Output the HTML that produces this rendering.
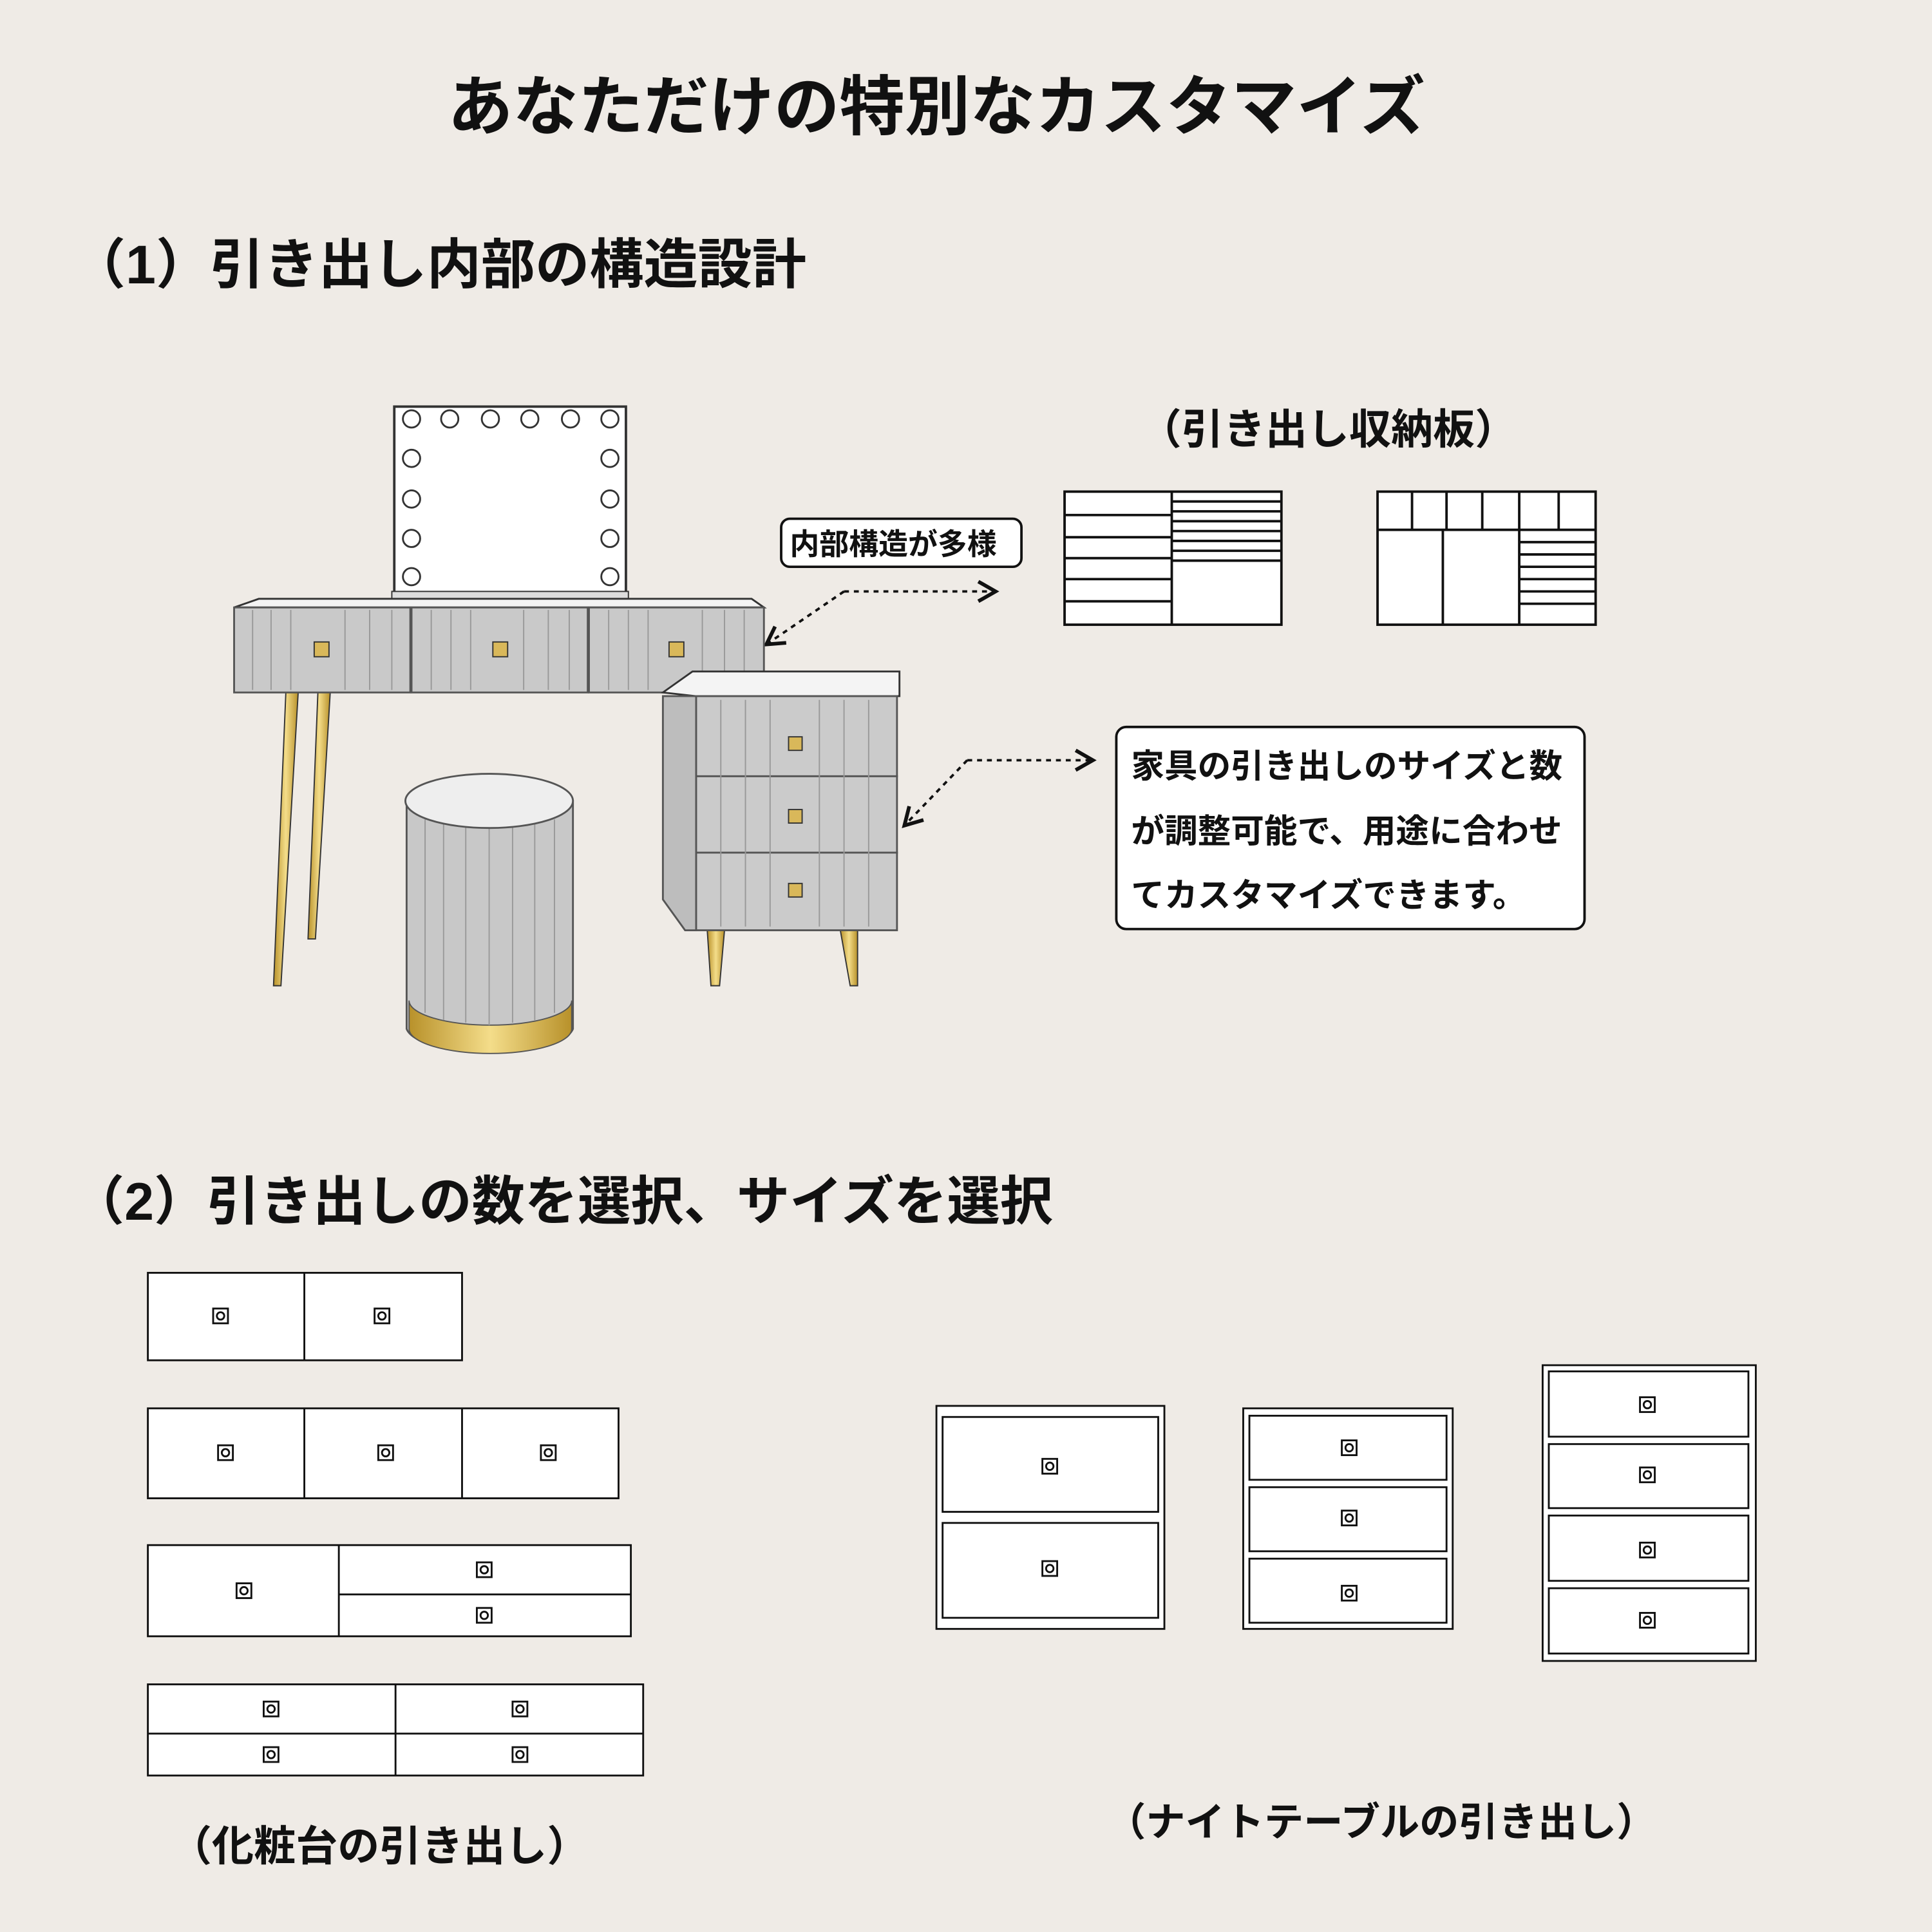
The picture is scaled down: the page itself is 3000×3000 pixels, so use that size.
<!DOCTYPE html>
<html><head><meta charset="utf-8"><style>
html,body{margin:0;padding:0;background:#efebe6;}
svg{display:block}
text{font-family:"Liberation Sans","Noto Sans CJK JP",sans-serif;fill:#111;font-weight:bold}
</style></head><body>
<svg width="3000" height="3000" viewBox="0 0 1568 1568" xmlns="http://www.w3.org/2000/svg">
<defs>
<g id="h"><rect x="-6" y="-6" width="12" height="12" fill="#fff" stroke="#111" stroke-width="1.5"/><circle r="3" fill="none" stroke="#111" stroke-width="1.5"/></g>
<marker id="ar" markerWidth="10" markerHeight="10" refX="8" refY="5" orient="auto"><path d="M1,1 L8,5 L1,9" fill="none" stroke="#111" stroke-width="1.5"/></marker>
<linearGradient id="gold" x1="0" x2="1"><stop offset="0" stop-color="#b8912a"/><stop offset=".5" stop-color="#f4dd8a"/><stop offset="1" stop-color="#b8912a"/></linearGradient>
</defs>
<rect width="1568" height="1568" fill="#efebe6"/>
<text x="760" y="105" font-size="53" text-anchor="middle">あなただけの特別なカスタマイズ</text>
<text x="58" y="230" font-size="44">（1）引き出し内部の構造設計</text>
<text x="58" y="990" font-size="43">（2）引き出しの数を選択、サイズを選択</text>
<text x="925" y="360" font-size="34">（引き出し収納板）</text>

<!-- organizers -->
<g fill="#fff" stroke="#111" stroke-width="2">
<rect x="864" y="399" width="176" height="108"/>
<line x1="951" y1="399" x2="951" y2="507"/>
<path d="M864 418H951M864 436H951M864 453H951M864 470H951M864 488H951" />
<path d="M951 407H1040M951 415H1040M951 423H1040M951 431H1040M951 439H1040M951 447H1040M951 455H1040"/>
<rect x="1118" y="399" width="177" height="108"/>
<path d="M1118 430H1295M1146 399V430M1174 399V430M1203 399V430M1233 399V430M1265 399V430M1171 430V507M1233 430V507"/>
<path d="M1233 440H1295M1233 450H1295M1233 460H1295M1233 470H1295M1233 480H1295M1233 490H1295"/>
</g>

<!-- callouts -->
<rect x="634" y="421" width="195" height="39" rx="7" fill="#fff" stroke="#111" stroke-width="2"/>
<text x="641" y="450" font-size="24">内部構造が多様</text>
<path d="M685 480 L808 480" fill="none" stroke="#111" stroke-width="2" stroke-dasharray="4,4" marker-end="url(#ar)"/>
<path d="M685 480 L622 523" fill="none" stroke="#111" stroke-width="2" marker-end="url(#ar)" stroke-dasharray="4,4"/>
<rect x="906" y="590" width="380" height="164" rx="8" fill="#fff" stroke="#111" stroke-width="2"/>
<text x="918" y="631" font-size="27">家具の引き出しのサイズと数</text>
<text x="918" y="684" font-size="27">が調整可能で、用途に合わせ</text>
<text x="918" y="736" font-size="27">てカスタマイズできます。</text>
<path d="M785 617 L887 617" fill="none" stroke="#111" stroke-width="2" stroke-dasharray="4,4" marker-end="url(#ar)"/>
<path d="M785 617 L734 670" fill="none" stroke="#111" stroke-width="2" stroke-dasharray="4,4" marker-end="url(#ar)"/>

<!-- vanity illustration -->
<rect x="320" y="330" width="188" height="152" fill="#fff" stroke="#333" stroke-width="2"/>
<rect x="318" y="480" width="192" height="8" fill="#ddd" stroke="#333"/>
<g fill="#fff" stroke="#333" stroke-width="1.5">
<circle cx="334" cy="340" r="7"/><circle cx="365" cy="340" r="7"/><circle cx="398" cy="340" r="7"/><circle cx="430" cy="340" r="7"/><circle cx="463" cy="340" r="7"/><circle cx="495" cy="340" r="7"/>
<circle cx="334" cy="372" r="7"/><circle cx="334" cy="405" r="7"/><circle cx="334" cy="437" r="7"/><circle cx="334" cy="468" r="7"/>
<circle cx="495" cy="372" r="7"/><circle cx="495" cy="405" r="7"/><circle cx="495" cy="437" r="7"/><circle cx="495" cy="468" r="7"/>
</g>
<path d="M232 562 L242 562 L228 800 L222 800Z" fill="url(#gold)" stroke="#333"/>
<path d="M258 562 L268 562 L256 762 L250 762Z" fill="url(#gold)" stroke="#333"/>
<path d="M574 755 L588 755 L584 800 L577 800Z" fill="url(#gold)" stroke="#333"/>
<path d="M682 755 L696 755 L696 800 L690 800Z" fill="url(#gold)" stroke="#333"/>
<path d="M190 493 L210 486 L610 486 L620 493Z" fill="#f4f4f4" stroke="#333" stroke-width="1.5"/>
<g fill="#c9c9c9" stroke="#555" stroke-width="1.5">
<rect x="190" y="493" width="143" height="69"/><rect x="334" y="493" width="143" height="69"/><rect x="478" y="493" width="142" height="69"/>
</g>
<g stroke="#999" stroke-width="1">
<path d="M205 495V560M220 495V560M236 495V560M280 495V560M300 495V560M318 495V560M350 495V560M366 495V560M382 495V560M425 495V560M445 495V560M462 495V560M494 495V560M510 495V560M526 495V560M570 495V560M588 495V560M604 495V560"/>
</g>
<rect x="255" y="521" width="12" height="12" fill="#d9b85a" stroke="#333"/>
<rect x="400" y="521" width="12" height="12" fill="#d9b85a" stroke="#333"/>
<rect x="543" y="521" width="12" height="12" fill="#d9b85a" stroke="#333"/>
<path d="M538 562 L562 545 L730 545 L730 565 L565 565Z" fill="#f4f4f4" stroke="#333" stroke-width="1.5"/>
<path d="M538 565 L565 565 L565 755 L556 755 L538 730Z" fill="#bdbdbd" stroke="#555" stroke-width="1.5"/>
<g fill="#cbcbcb" stroke="#555" stroke-width="1.5">
<rect x="565" y="565" width="163" height="65"/><rect x="565" y="630" width="163" height="62"/><rect x="565" y="692" width="163" height="63"/>
</g>
<g stroke="#999" stroke-width="1"><path d="M585 568V752M605 568V752M625 568V752M665 568V752M685 568V752M705 568V752"/></g>
<rect x="640" y="598" width="11" height="11" fill="#d9b85a" stroke="#333"/>
<rect x="640" y="657" width="11" height="11" fill="#d9b85a" stroke="#333"/>
<rect x="640" y="717" width="11" height="11" fill="#d9b85a" stroke="#333"/>
<path d="M330 650 L330 835 A68 22 0 0 0 465 835 L465 650Z" fill="#c8c8c8" stroke="#555" stroke-width="1.5"/>
<path d="M332 812 L332 835 A66 20 0 0 0 464 835 L464 812 A66 20 0 0 1 332 812Z" fill="url(#gold)" stroke="#555"/>
<g stroke="#999" stroke-width="1"><path d="M345 665V822M360 668V828M378 670V830M397 672V832M416 670V830M434 668V828M450 665V822"/></g>
<ellipse cx="397" cy="650" rx="68" ry="22" fill="#eee" stroke="#555" stroke-width="1.5"/>

<g fill="#fff" stroke="#111" stroke-width="1.5">
<rect x="120" y="1033" width="255" height="71"/><line x1="247" y1="1033" x2="247" y2="1104"/>
<rect x="120" y="1143" width="382" height="73"/><line x1="247" y1="1143" x2="247" y2="1216"/><line x1="375" y1="1143" x2="375" y2="1216"/>
<rect x="120" y="1254" width="392" height="74"/><line x1="275" y1="1254" x2="275" y2="1328"/><line x1="275" y1="1294" x2="512" y2="1294"/>
<rect x="120" y="1367" width="402" height="74"/><line x1="321" y1="1367" x2="321" y2="1441"/><line x1="120" y1="1407" x2="522" y2="1407"/>
</g>
<use href="#h" x="179" y="1068"/><use href="#h" x="310" y="1068"/>
<use href="#h" x="183" y="1179"/><use href="#h" x="313" y="1179"/><use href="#h" x="445" y="1179"/>
<use href="#h" x="198" y="1291"/><use href="#h" x="393" y="1274"/><use href="#h" x="393" y="1311"/>
<use href="#h" x="220" y="1387"/><use href="#h" x="220" y="1424"/><use href="#h" x="422" y="1387"/><use href="#h" x="422" y="1424"/>
<text x="138" y="1510" font-size="34">（化粧台の引き出し）</text>

<g fill="#fff" stroke="#111" stroke-width="1.5">
<rect x="760" y="1141" width="185" height="181"/><rect x="765" y="1150" width="175" height="77"/><rect x="765" y="1236" width="175" height="77"/>
<rect x="1009" y="1143" width="170" height="179"/><rect x="1014" y="1149" width="160" height="52"/><rect x="1014" y="1207" width="160" height="52"/><rect x="1014" y="1265" width="160" height="52"/>
<rect x="1252" y="1108" width="173" height="240"/><rect x="1257" y="1113" width="162" height="53"/><rect x="1257" y="1172" width="162" height="52"/><rect x="1257" y="1230" width="162" height="53"/><rect x="1257" y="1289" width="162" height="53"/>
</g>
<use href="#h" x="852" y="1190"/><use href="#h" x="852" y="1273"/>
<use href="#h" x="1095" y="1175"/><use href="#h" x="1095" y="1232"/><use href="#h" x="1095" y="1293"/>
<use href="#h" x="1337" y="1140"/><use href="#h" x="1337" y="1197"/><use href="#h" x="1337" y="1258"/><use href="#h" x="1337" y="1315"/>
<text x="898" y="1490" font-size="32">（ナイトテーブルの引き出し）</text>
</svg>
</body></html>
